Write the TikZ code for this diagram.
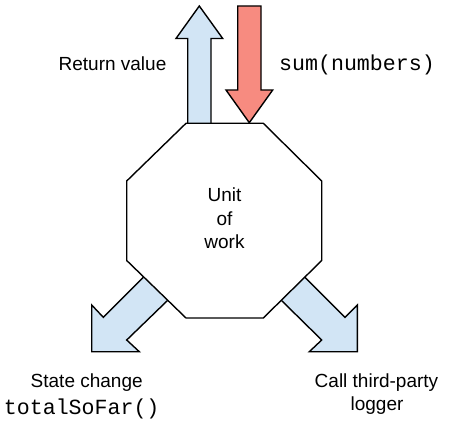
\documentclass[tikz,border=0pt]{standalone}
\usepackage{fontspec}
\setmainfont{Liberation Sans}
\setmonofont{Liberation Mono}
\definecolor{arrowblue}{HTML}{D2E5F5}
\definecolor{arrowred}{HTML}{F78B80}
\tikzset{
  blockarrow/.style={draw=black, line width=1.4pt, line join=miter},
  unitbox/.style={draw=black, line width=1.4pt, fill=white},
  lbl/.style={inner sep=0pt, anchor=base, font=\fontsize{19}{23}\selectfont},
  codelbl/.style={inner sep=0pt, anchor=base, font=\ttfamily\fontsize{21.6}{26}\selectfont},
}
\begin{document}
\begin{tikzpicture}[x=1pt,y=-1pt]
\useasboundingbox (0,0) rectangle (452,425);
% arrows
\draw[blockarrow, fill=arrowblue] (187.7,123.3) -- (187.7,38.5) -- (176,38.5) -- (199.3,6) -- (222.7,38.5) -- (211,38.5) -- (211,123.3);
\draw[blockarrow, fill=arrowred] (237.7,6) -- (261,6) -- (261,90) -- (272.7,90) -- (249.3,122.7) -- (226,90) -- (237.7,90) -- cycle;
\draw[blockarrow, fill=arrowblue] (143.3,277.3) -- (103.3,317.3) -- (91.7,305) -- (91.7,351.7) -- (139.3,351.7) -- (126.7,340) -- (167.3,300.7);
\draw[blockarrow, fill=arrowblue] (305,277.3) -- (345,317.3) -- (357.3,305) -- (357.3,351.7) -- (309.3,351.7) -- (321.7,340) -- (281.7,300.7);
% octagon
\draw[unitbox] (186,123.3) -- (263.3,123.3) -- (321.7,181) -- (321.7,260.5) -- (263.3,318) -- (186,318) -- (126.7,260.5) -- (126.7,181) -- cycle;
\node (unit) at (224.5,220.5) {};
\node[lbl] (u1) at (224.5,201.7) {Unit};
\node[lbl] (u2) at (224.5,225) {of};
\node[lbl] (u3) at (224.5,248.3) {work};
% labels
\node[lbl] (ret) at (112.5,70.5) {Return value};
\node[codelbl] (sum) at (357,70.5) {sum(numbers)};
\node[lbl] (state) at (86.7,387.7) {State change};
\node[codelbl] (total) at (81.7,414.3) {totalSoFar()};
\node[lbl] (call) at (376.5,387.7) {Call third-party};
\node[lbl] (log) at (377,410.5) {logger};
\end{tikzpicture}
\end{document}
